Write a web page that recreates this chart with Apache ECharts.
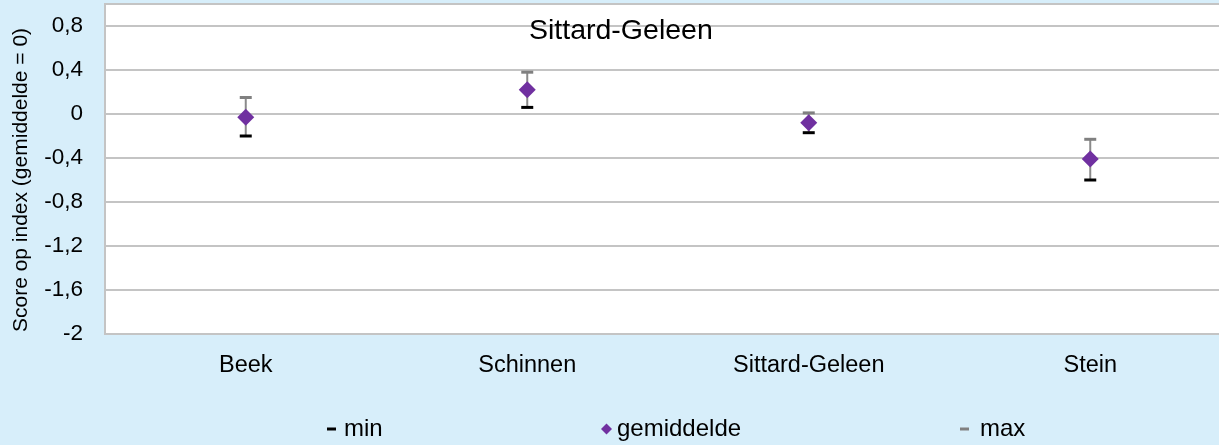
<!DOCTYPE html>
<html>
<head>
<meta charset="utf-8">
<script src="https://cdn.jsdelivr.net/npm/echarts@6/dist/echarts.min.js"></script>
<style>
  html, body { margin: 0; padding: 0; background: #d7eefa; }
  #chart { width: 1219px; height: 445px; }
</style>
</head>
<body>
<div id="chart"></div>
<script>
var categories = ['Beek', 'Schinnen', 'Sittard-Geleen', 'Stein']
var minValues = [-0.2, 0.06, -0.17, -0.6]
var meanValues = [-0.03, 0.22, -0.08, -0.41]
var maxValues = [0.15, 0.38, 0.01, -0.23]

var font = '"Liberation Sans", Arial, sans-serif'
var textColor = '#000'

var chart = echarts.init(document.getElementById('chart'))

var whiskers = categories.map(function (c, i) {
  return [i, minValues[i], maxValues[i]]
})

chart.setOption({
  backgroundColor: '#d7eefa',
  animation: false,
  title: {
    text: 'Sittard-Geleen',
    left: 524,
    top: 12,
    textStyle: { fontFamily: font, fontSize: 28.5, fontWeight: 'normal', color: textColor }
  },
  legend: [{
    data: ['min'],
    left: 322,
    top: 412,
    icon: 'rect',
    itemWidth: 9,
    itemHeight: 3,
    textStyle: { fontFamily: font, fontSize: 24, color: textColor, padding: [0, 0, 0, 3] }
  }, {
    data: ['gemiddelde'],
    left: 596,
    top: 412,
    icon: 'diamond',
    itemWidth: 11,
    itemHeight: 11,
    textStyle: { fontFamily: font, fontSize: 24, color: textColor, padding: [0, 0, 0, 0] }
  }, {
    data: ['max'],
    left: 955,
    top: 412,
    icon: 'rect',
    itemWidth: 9,
    itemHeight: 3,
    textStyle: { fontFamily: font, fontSize: 24, color: textColor, padding: [0, 0, 0, 6] }
  }],
  grid: {
    left: 105,
    top: 4,
    width: 1126,
    bottom: 111,
    outerBoundsMode: 'none',
    show: true,
    backgroundColor: '#fff',
    borderColor: '#c4c4c4',
    borderWidth: 2
  },
  xAxis: {
    type: 'category',
    data: categories,
    axisLine: { show: false },
    axisTick: { show: false },
    axisLabel: { fontFamily: font, fontSize: 23.5, color: textColor, margin: 20 }
  },
  yAxis: {
    type: 'value',
    min: -2,
    max: 1,
    interval: 0.4,
    name: 'Score op index (gemiddelde = 0)',
    nameLocation: 'middle',
    nameGap: 73,
    nameTextStyle: { fontFamily: font, fontSize: 21, color: textColor, padding: [0, 22, 0, 0] },
    axisLine: { show: false },
    axisTick: { show: false },
    splitLine: { lineStyle: { color: '#c4c4c4', width: 2 } },
    axisLabel: {
      fontFamily: font,
      fontSize: 22.5,
      color: textColor,
      margin: 22,
      showMaxLabel: false,
      formatter: function (v) {
        return String(Math.round(v * 10) / 10).replace('.', ',')
      }
    }
  },
  series: [{
    name: 'range',
    type: 'custom',
    data: whiskers,
    encode: { x: 0, y: [1, 2] },
    z: 1,
    renderItem: function (params, api) {
      var p1 = api.coord([api.value(0), api.value(1)])
      var p2 = api.coord([api.value(0), api.value(2)])
      return {
        type: 'line',
        shape: { x1: p1[0], y1: p1[1], x2: p2[0], y2: p2[1] },
        style: { stroke: '#8a8a8a', lineWidth: 2 }
      }
    }
  }, {
    name: 'min',
    type: 'scatter',
    data: minValues,
    symbol: 'rect',
    symbolSize: [12, 3],
    itemStyle: { color: '#000', opacity: 1 },
    z: 3
  }, {
    name: 'gemiddelde',
    type: 'scatter',
    data: meanValues,
    symbol: 'diamond',
    symbolSize: 17,
    itemStyle: { color: '#7030a0', opacity: 1 },
    z: 4
  }, {
    name: 'max',
    type: 'scatter',
    data: maxValues,
    symbol: 'rect',
    symbolSize: [12, 3],
    itemStyle: { color: '#808080', opacity: 1 },
    z: 3
  }]
})
</script>
</body>
</html>
